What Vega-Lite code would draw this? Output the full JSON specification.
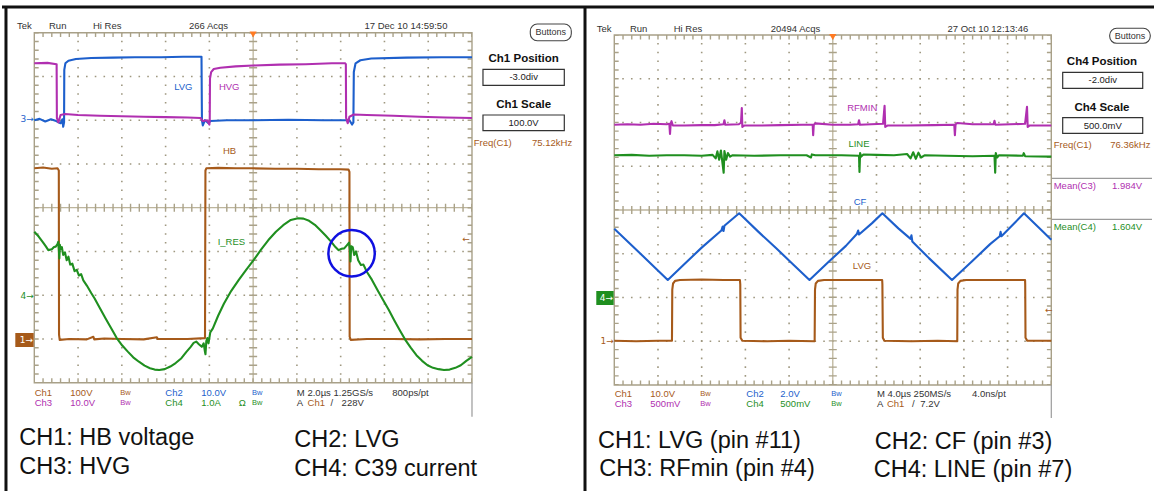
{
"$schema":"https://vega.github.io/schema/vega-lite/v6.json",
"padding":0,"spacing":0,"bounds":"flush","background":"#ffffff",
"config":{"view":{"stroke":null},"text":{"font":"Liberation Sans"}},
"hconcat":[
{"width":582,"height":491,
 "encoding":{"x":{"field":"x","type":"quantitative","scale":{"domain":[-0.738,12.559],"nice":false,"zero":false},"axis":null},
             "y":{"field":"y","type":"quantitative","scale":{"domain":[-6.475,4.747],"nice":false,"zero":false},"axis":null}},
 "layer":[
  {"data":{"values":[{"x":-0.647,"y":4.587,"x2":-0.647,"y2":-6.475},{"x":-0.738,"y":4.587,"x2":12.559,"y2":4.587}]},
   "mark":{"type":"rule","color":"#111111","strokeWidth":3},"encoding":{"x2":{"field":"x2"},"y2":{"field":"y2"}}},
  {"data":{"values":[{"x":1,"y":4,"x2":1,"y2":-4},{"x":2,"y":4,"x2":2,"y2":-4},{"x":3,"y":4,"x2":3,"y2":-4},{"x":4,"y":4,"x2":4,"y2":-4},{"x":6,"y":4,"x2":6,"y2":-4},{"x":7,"y":4,"x2":7,"y2":-4},{"x":8,"y":4,"x2":8,"y2":-4},{"x":9,"y":4,"x2":9,"y2":-4},
     {"x":0,"y":3,"x2":10,"y2":3},{"x":0,"y":2,"x2":10,"y2":2},{"x":0,"y":1,"x2":10,"y2":1},{"x":0,"y":-1,"x2":10,"y2":-1},{"x":0,"y":-2,"x2":10,"y2":-2},{"x":0,"y":-3,"x2":10,"y2":-3}]},
   "mark":{"type":"rule","color":"#9f9880","strokeWidth":1.6,"strokeDash":[1.6,7.15],"strokeDashOffset":0.8},"encoding":{"x2":{"field":"x2"},"y2":{"field":"y2"}}},
  {"data":{"values":[{"x":5,"y":4,"x2":5,"y2":-4},{"x":0,"y":0,"x2":10,"y2":0}]},
   "mark":{"type":"rule","color":"#bdb59c","strokeWidth":1.3},"encoding":{"x2":{"field":"x2"},"y2":{"field":"y2"}}},
  {"data":{"values":[{"x":5,"y":4,"x2":5,"y2":-4},{"x":0,"y":0,"x2":10,"y2":0}]},
   "mark":{"type":"rule","color":"#aaa289","strokeWidth":8,"strokeDash":[1.4,7.35],"strokeDashOffset":0.7},"encoding":{"x2":{"field":"x2"},"y2":{"field":"y2"}}},
  {"data":{"values":[{"x":0,"y":3.95,"x2":10,"y2":3.95},{"x":0,"y":-3.95,"x2":10,"y2":-3.95},{"x":0.05,"y":4,"x2":0.05,"y2":-4},{"x":9.95,"y":4,"x2":9.95,"y2":-4}]},
   "mark":{"type":"rule","color":"#aaa289","strokeWidth":4.4,"strokeDash":[1.4,7.35],"strokeDashOffset":0.7},"encoding":{"x2":{"field":"x2"},"y2":{"field":"y2"}}},
  {"data":{"values":[{"x":0,"y":4,"x2":10,"y2":-4}]},
   "mark":{"type":"rect","filled":false,"color":"#a8a088","strokeWidth":1.4},"encoding":{"x2":{"field":"x2"},"y2":{"field":"y2"}}},
  {"data":{"values":[{"x":10,"y":-4,"x2":10,"y2":-4.78}]},
   "mark":{"type":"rule","color":"#9a9a9a","strokeWidth":1.2},"encoding":{"x2":{"field":"x2"},"y2":{"field":"y2"}}},
  {"data":{"values":[
{"ch":"2","x":0,"y":2.0},{"ch":"2","x":0.12,"y":2.03},{"ch":"2","x":0.25,"y":1.97},{"ch":"2","x":0.38,"y":2.02},{"ch":"2","x":0.5,"y":1.98},{"ch":"2","x":0.6,"y":1.93},{"ch":"2","x":0.64,"y":2.02},{"ch":"2","x":0.66,"y":1.85},{"ch":"2","x":0.68,"y":1.95},{"ch":"2","x":0.685,"y":3.15},{"ch":"2","x":0.71,"y":3.3},{"ch":"2","x":0.78,"y":3.36},{"ch":"2","x":0.95,"y":3.4},{"ch":"2","x":1.3,"y":3.42},{"ch":"2","x":1.8,"y":3.43},{"ch":"2","x":2.3,"y":3.44},{"ch":"2","x":2.9,"y":3.44},{"ch":"2","x":3.4,"y":3.45},{"ch":"2","x":3.82,"y":3.45},{"ch":"2","x":3.83,"y":2.0},{"ch":"2","x":3.85,"y":1.88},{"ch":"2","x":3.9,"y":2.0},{"ch":"2","x":3.98,"y":1.93},{"ch":"2","x":4.02,"y":1.98},{"ch":"2","x":4.4,"y":2.0},{"ch":"2","x":5.0,"y":2.0},{"ch":"2","x":5.8,"y":2.01},{"ch":"2","x":6.6,"y":2.0},{"ch":"2","x":7.2,"y":2.0},{"ch":"2","x":7.26,"y":1.9},{"ch":"2","x":7.29,"y":1.95},{"ch":"2","x":7.3,"y":3.1},{"ch":"2","x":7.34,"y":3.3},{"ch":"2","x":7.45,"y":3.37},{"ch":"2","x":7.7,"y":3.41},{"ch":"2","x":8.5,"y":3.43},{"ch":"2","x":9.3,"y":3.44},{"ch":"2","x":10,"y":3.44},
{"ch":"3","x":0,"y":3.3},{"ch":"3","x":0.3,"y":3.31},{"ch":"3","x":0.51,"y":3.28},{"ch":"3","x":0.516,"y":2.05},{"ch":"3","x":0.55,"y":1.95},{"ch":"3","x":0.6,"y":2.12},{"ch":"3","x":0.7,"y":2.14},{"ch":"3","x":1.0,"y":2.12},{"ch":"3","x":1.5,"y":2.1},{"ch":"3","x":2.0,"y":2.09},{"ch":"3","x":2.5,"y":2.08},{"ch":"3","x":3.0,"y":2.07},{"ch":"3","x":3.5,"y":2.06},{"ch":"3","x":3.8,"y":2.05},{"ch":"3","x":3.85,"y":1.98},{"ch":"3","x":3.95,"y":2.0},{"ch":"3","x":4.0,"y":1.9},{"ch":"3","x":4.008,"y":2.0},{"ch":"3","x":4.014,"y":2.95},{"ch":"3","x":4.04,"y":3.1},{"ch":"3","x":4.1,"y":3.17},{"ch":"3","x":4.25,"y":3.2},{"ch":"3","x":4.6,"y":3.23},{"ch":"3","x":5.0,"y":3.25},{"ch":"3","x":5.6,"y":3.27},{"ch":"3","x":6.2,"y":3.28},{"ch":"3","x":6.8,"y":3.3},{"ch":"3","x":7.1,"y":3.3},{"ch":"3","x":7.118,"y":3.28},{"ch":"3","x":7.124,"y":2.05},{"ch":"3","x":7.16,"y":1.93},{"ch":"3","x":7.2,"y":2.08},{"ch":"3","x":7.3,"y":2.13},{"ch":"3","x":7.6,"y":2.12},{"ch":"3","x":8.2,"y":2.1},{"ch":"3","x":8.8,"y":2.08},{"ch":"3","x":9.4,"y":2.06},{"ch":"3","x":10,"y":2.05},
{"ch":"1","x":0,"y":0.9},{"ch":"1","x":0.2,"y":0.92},{"ch":"1","x":0.4,"y":0.89},{"ch":"1","x":0.53,"y":0.9},{"ch":"1","x":0.56,"y":0.85},{"ch":"1","x":0.565,"y":-2.9},{"ch":"1","x":0.58,"y":-3.02},{"ch":"1","x":0.8,"y":-3.0},{"ch":"1","x":1.2,"y":-3.01},{"ch":"1","x":1.35,"y":-2.95},{"ch":"1","x":1.37,"y":-3.01},{"ch":"1","x":1.6,"y":-2.99},{"ch":"1","x":2.0,"y":-3.0},{"ch":"1","x":2.5,"y":-3.01},{"ch":"1","x":2.8,"y":-2.96},{"ch":"1","x":2.82,"y":-3.0},{"ch":"1","x":3.0,"y":-3.0},{"ch":"1","x":3.5,"y":-3.0},{"ch":"1","x":3.9,"y":-2.98},{"ch":"1","x":3.91,"y":0.85},{"ch":"1","x":3.93,"y":0.9},{"ch":"1","x":4.2,"y":0.91},{"ch":"1","x":4.6,"y":0.9},{"ch":"1","x":5.0,"y":0.9},{"ch":"1","x":5.5,"y":0.89},{"ch":"1","x":6.0,"y":0.89},{"ch":"1","x":6.5,"y":0.88},{"ch":"1","x":7.0,"y":0.88},{"ch":"1","x":7.18,"y":0.87},{"ch":"1","x":7.2,"y":0.82},{"ch":"1","x":7.205,"y":-2.95},{"ch":"1","x":7.23,"y":-3.02},{"ch":"1","x":7.6,"y":-3.0},{"ch":"1","x":8.2,"y":-3.0},{"ch":"1","x":8.8,"y":-3.01},{"ch":"1","x":9.4,"y":-3.0},{"ch":"1","x":10,"y":-3.0},
{"ch":"4","x":0.0,"y":-0.55},{"ch":"4","x":0.1,"y":-0.66},{"ch":"4","x":0.19,"y":-0.78},{"ch":"4","x":0.26,"y":-0.88},{"ch":"4","x":0.32,"y":-0.97},{"ch":"4","x":0.4,"y":-0.95},{"ch":"4","x":0.45,"y":-0.9},{"ch":"4","x":0.49,"y":-0.89},{"ch":"4","x":0.53,"y":-0.83},{"ch":"4","x":0.547,"y":-0.78},{"ch":"4","x":0.56,"y":-0.95},{"ch":"4","x":0.572,"y":-1.16},{"ch":"4","x":0.585,"y":-0.85},{"ch":"4","x":0.6,"y":-0.95},{"ch":"4","x":0.63,"y":-0.9},{"ch":"4","x":0.66,"y":-1.08},{"ch":"4","x":0.7,"y":-1.02},{"ch":"4","x":0.74,"y":-1.2},{"ch":"4","x":0.78,"y":-1.12},{"ch":"4","x":0.82,"y":-1.3},{"ch":"4","x":0.87,"y":-1.28},{"ch":"4","x":0.92,"y":-1.45},{"ch":"4","x":0.97,"y":-1.42},{"ch":"4","x":1.02,"y":-1.55},{"ch":"4","x":1.07,"y":-1.52},{"ch":"4","x":1.12,"y":-1.66},{"ch":"4","x":1.2,"y":-1.78},{"ch":"4","x":1.3,"y":-1.95},{"ch":"4","x":1.375,"y":-2.07},{"ch":"4","x":1.5,"y":-2.3},{"ch":"4","x":1.629,"y":-2.53},{"ch":"4","x":1.76,"y":-2.76},{"ch":"4","x":1.883,"y":-2.98},{"ch":"4","x":2.01,"y":-3.15},{"ch":"4","x":2.136,"y":-3.29},{"ch":"4","x":2.26,"y":-3.42},{"ch":"4","x":2.39,"y":-3.52},{"ch":"4","x":2.52,"y":-3.61},{"ch":"4","x":2.643,"y":-3.67},{"ch":"4","x":2.75,"y":-3.7},{"ch":"4","x":2.854,"y":-3.71},{"ch":"4","x":2.98,"y":-3.69},{"ch":"4","x":3.107,"y":-3.63},{"ch":"4","x":3.23,"y":-3.55},{"ch":"4","x":3.361,"y":-3.44},{"ch":"4","x":3.47,"y":-3.3},{"ch":"4","x":3.573,"y":-3.18},{"ch":"4","x":3.64,"y":-3.09},{"ch":"4","x":3.699,"y":-3.06},{"ch":"4","x":3.76,"y":-3.12},{"ch":"4","x":3.827,"y":-3.18},{"ch":"4","x":3.87,"y":-3.1},{"ch":"4","x":3.9,"y":-3.3},{"ch":"4","x":3.911,"y":-3.35},{"ch":"4","x":3.93,"y":-3.05},{"ch":"4","x":3.953,"y":-2.98},{"ch":"4","x":3.98,"y":-3.1},{"ch":"4","x":4.02,"y":-2.85},{"ch":"4","x":4.08,"y":-2.76},{"ch":"4","x":4.2,"y":-2.47},{"ch":"4","x":4.334,"y":-2.19},{"ch":"4","x":4.5,"y":-1.9},{"ch":"4","x":4.672,"y":-1.65},{"ch":"4","x":4.84,"y":-1.42},{"ch":"4","x":5.01,"y":-1.2},{"ch":"4","x":5.18,"y":-0.96},{"ch":"4","x":5.348,"y":-0.74},{"ch":"4","x":5.52,"y":-0.55},{"ch":"4","x":5.687,"y":-0.4},{"ch":"4","x":5.86,"y":-0.28},{"ch":"4","x":6.025,"y":-0.24},{"ch":"4","x":6.15,"y":-0.25},{"ch":"4","x":6.278,"y":-0.3},{"ch":"4","x":6.41,"y":-0.39},{"ch":"4","x":6.532,"y":-0.51},{"ch":"4","x":6.66,"y":-0.64},{"ch":"4","x":6.785,"y":-0.78},{"ch":"4","x":6.88,"y":-0.9},{"ch":"4","x":6.954,"y":-0.97},{"ch":"4","x":7.02,"y":-0.94},{"ch":"4","x":7.08,"y":-0.93},{"ch":"4","x":7.14,"y":-0.86},{"ch":"4","x":7.19,"y":-0.8},{"ch":"4","x":7.21,"y":-0.95},{"ch":"4","x":7.224,"y":-1.23},{"ch":"4","x":7.24,"y":-0.88},{"ch":"4","x":7.274,"y":-0.9},{"ch":"4","x":7.31,"y":-1.08},{"ch":"4","x":7.35,"y":-1.0},{"ch":"4","x":7.4,"y":-1.2},{"ch":"4","x":7.462,"y":-1.31},{"ch":"4","x":7.52,"y":-1.3},{"ch":"4","x":7.6,"y":-1.47},{"ch":"4","x":7.715,"y":-1.65},{"ch":"4","x":7.84,"y":-1.88},{"ch":"4","x":7.969,"y":-2.11},{"ch":"4","x":8.1,"y":-2.34},{"ch":"4","x":8.223,"y":-2.57},{"ch":"4","x":8.35,"y":-2.8},{"ch":"4","x":8.476,"y":-3.02},{"ch":"4","x":8.6,"y":-3.2},{"ch":"4","x":8.73,"y":-3.37},{"ch":"4","x":8.86,"y":-3.5},{"ch":"4","x":8.983,"y":-3.6},{"ch":"4","x":9.11,"y":-3.66},{"ch":"4","x":9.237,"y":-3.69},{"ch":"4","x":9.36,"y":-3.71},{"ch":"4","x":9.488,"y":-3.7},{"ch":"4","x":9.62,"y":-3.66},{"ch":"4","x":9.744,"y":-3.6},{"ch":"4","x":9.87,"y":-3.5},{"ch":"4","x":10.0,"y":-3.41}
  ]},
   "mark":{"type":"line","strokeWidth":2.1,"strokeJoin":"round"},
   "encoding":{"color":{"field":"ch","type":"nominal","scale":{"domain":["1","2","3","4","n"],"range":["#a65a1a","#1d5fcc","#b02fb0","#1f8f1f","#333333"]},"legend":null}}},
  {"data":{"values":[{"x":7.249,"y":-1.042}]},"mark":{"type":"point","shape":"circle","size":2150,"filled":false,"color":"#1010e0","strokeWidth":2.5,"opacity":1}},
  {"data":{"values":[{"x":5.0,"y":3.959}]},"mark":{"type":"point","shape":"triangle-down","size":50,"filled":true,"color":"#ff7a22","opacity":1}},
  {"data":{"values":[{"x":-0.395,"y":4.153,"t":"Tek"},{"x":0.336,"y":4.153,"t":"Run"},{"x":1.341,"y":4.153,"t":"Hi Res"},{"x":3.534,"y":4.153,"t":"266 Acqs"},{"x":7.544,"y":4.153,"t":"17 Dec 10 14:59:50"}]},
   "mark":{"type":"text","align":"left","baseline":"middle","fontSize":9.5,"color":"#333333"},"encoding":{"text":{"field":"t"}}},
  {"data":{"values":[{"x":10.039,"y":1.486,"t":"Freq(C1)","ch":"1"},{"x":11.371,"y":1.486,"t":"75.12kHz","ch":"1"},
     {"x":0.009,"y":-4.229,"t":"Ch1","ch":"1"},{"x":0.822,"y":-4.229,"t":"100V","ch":"1"},{"x":2.993,"y":-4.229,"t":"Ch2","ch":"2"},{"x":3.815,"y":-4.229,"t":"10.0V","ch":"2"},{"x":5.999,"y":-4.229,"t":"M 2.0µs 1.25GS/s","ch":"n"},{"x":8.179,"y":-4.229,"t":"800ps/pt","ch":"n"},
     {"x":0.009,"y":-4.457,"t":"Ch3","ch":"3"},{"x":0.822,"y":-4.457,"t":"10.0V","ch":"3"},{"x":2.993,"y":-4.457,"t":"Ch4","ch":"4"},{"x":3.815,"y":-4.457,"t":"1.0A","ch":"4"},{"x":4.67,"y":-4.457,"t":"Ω","ch":"4"},{"x":5.999,"y":-4.457,"t":"A","ch":"n"},{"x":6.244,"y":-4.457,"t":"Ch1","ch":"1"},{"x":6.767,"y":-4.457,"t":"/","ch":"n"},{"x":7.021,"y":-4.457,"t":"228V","ch":"n"}]},
   "mark":{"type":"text","align":"left","baseline":"middle","fontSize":9.5},
   "encoding":{"text":{"field":"t"},"color":{"field":"ch","type":"nominal","scale":{"domain":["1","2","3","4","n"],"range":["#a65a1a","#1d5fcc","#b02fb0","#1f8f1f","#333333"]},"legend":null}}},
  {"data":{"values":[{"x":1.965,"y":-4.229,"t":"Bw","ch":"1"},{"x":4.974,"y":-4.229,"t":"Bw","ch":"2"},{"x":1.965,"y":-4.457,"t":"Bw","ch":"3"},{"x":4.974,"y":-4.457,"t":"Bw","ch":"4"}]},
   "mark":{"type":"text","align":"left","baseline":"middle","fontSize":7.5},
   "encoding":{"text":{"field":"t"},"color":{"field":"ch","type":"nominal","scale":{"domain":["1","2","3","4","n"],"range":["#a65a1a","#1d5fcc","#b02fb0","#1f8f1f","#333333"]},"legend":null}}},
  {"data":{"values":[{"x":3.404,"y":2.766,"t":"LVG","ch":"2"},{"x":4.453,"y":2.752,"t":"HVG","ch":"3"},{"x":4.46,"y":1.296,"t":"HB","ch":"1"},{"x":4.503,"y":-0.777,"t":"I_RES","ch":"4"}]},
   "mark":{"type":"text","align":"center","baseline":"middle","fontSize":9.5},
   "encoding":{"text":{"field":"t"},"color":{"field":"ch","type":"nominal","scale":{"domain":["1","2","3","4","n"],"range":["#a65a1a","#1d5fcc","#b02fb0","#1f8f1f","#333333"]},"legend":null}}},
  {"data":{"values":[{"x":-0.434,"y":-2.864,"x2":-0.014,"y2":-3.184,"ch":"1"}]},
   "mark":{"type":"rect"},
   "encoding":{"x2":{"field":"x2"},"y2":{"field":"y2"},"color":{"field":"ch","type":"nominal","scale":{"domain":["1","2","3","4","n"],"range":["#a65a1a","#1d5fcc","#b02fb0","#1f8f1f","#333333"]},"legend":null}}},
  {"data":{"values":[{"x":-0.01,"y":2.02,"t":"3→","ch":"2"},{"x":-0.01,"y":-2.018,"t":"4→","ch":"4"},{"x":9.95,"y":-0.722,"t":"←","ch":"1"}]},
   "mark":{"type":"text","align":"right","baseline":"middle","fontSize":9,"font":"DejaVu Sans"},
   "encoding":{"text":{"field":"t"},"color":{"field":"ch","type":"nominal","scale":{"domain":["1","2","3","4","n"],"range":["#a65a1a","#1d5fcc","#b02fb0","#1f8f1f","#333333"]},"legend":null}}},
  {"data":{"values":[{"x":-0.03,"y":-3.024,"t":"1→"}]},
   "mark":{"type":"text","align":"right","baseline":"middle","fontSize":9,"font":"DejaVu Sans","color":"#ffffff"},"encoding":{"text":{"field":"t"}}},
  {"data":{"values":[{"x":11.181,"y":3.392,"t":"Ch1 Position"},{"x":11.181,"y":2.347,"t":"Ch1 Scale"}]},
   "mark":{"type":"text","align":"center","baseline":"middle","fontSize":11.5,"fontWeight":"bold","color":"#111111"},"encoding":{"text":{"field":"t"}}},
  {"data":{"values":[{"x":10.251,"y":3.163,"x2":12.109,"y2":2.798},{"x":10.251,"y":2.119,"x2":12.109,"y2":1.76}]},
   "mark":{"type":"rect","filled":false,"color":"#333333","strokeWidth":1.2},"encoding":{"x2":{"field":"x2"},"y2":{"field":"y2"}}},
  {"data":{"values":[{"x":11.18,"y":2.981,"t":"-3.0div"},{"x":11.18,"y":1.94,"t":"100.0V"}]},
   "mark":{"type":"text","align":"center","baseline":"middle","fontSize":9.5,"color":"#222222"},"encoding":{"text":{"field":"t"}}},
  {"data":{"values":[{"x":11.332,"y":4.199,"x2":12.269,"y2":3.817}]},
   "mark":{"type":"rect","filled":false,"color":"#444444","strokeWidth":1.1,"cornerRadius":7},"encoding":{"x2":{"field":"x2"},"y2":{"field":"y2"}}},
  {"data":{"values":[{"x":11.8,"y":4.008,"t":"Buttons"}]},
   "mark":{"type":"text","align":"center","baseline":"middle","fontSize":9,"color":"#333333"},"encoding":{"text":{"field":"t"}}},
  {"data":{"values":[{"x":-0.343,"y":-5.271,"t":"CH1: HB voltage"},{"x":-0.343,"y":-5.934,"t":"CH3: HVG"},{"x":5.94,"y":-5.31,"t":"CH2: LVG"},{"x":5.94,"y":-5.979,"t":"CH4: C39 current"}]},
   "mark":{"type":"text","align":"left","baseline":"middle","fontSize":23.5,"color":"#111111"},"encoding":{"text":{"field":"t"}}}
 ]},
{"width":572,"height":491,
 "encoding":{"x":{"field":"x","type":"quantitative","scale":{"domain":[-0.693,12.396],"nice":false,"zero":false},"axis":null},
             "y":{"field":"y","type":"quantitative","scale":{"domain":[-6.423,4.8],"nice":false,"zero":false},"axis":null}},
 "layer":[
  {"data":{"values":[{"x":-0.67,"y":4.64,"x2":-0.67,"y2":-6.423},{"x":-0.693,"y":4.64,"x2":12.396,"y2":4.64}]},
   "mark":{"type":"rule","color":"#111111","strokeWidth":3},"encoding":{"x2":{"field":"x2"},"y2":{"field":"y2"}}},
  {"data":{"values":[{"x":1,"y":4,"x2":1,"y2":-4},{"x":2,"y":4,"x2":2,"y2":-4},{"x":3,"y":4,"x2":3,"y2":-4},{"x":4,"y":4,"x2":4,"y2":-4},{"x":6,"y":4,"x2":6,"y2":-4},{"x":7,"y":4,"x2":7,"y2":-4},{"x":8,"y":4,"x2":8,"y2":-4},{"x":9,"y":4,"x2":9,"y2":-4},
     {"x":0,"y":3,"x2":10,"y2":3},{"x":0,"y":2,"x2":10,"y2":2},{"x":0,"y":1,"x2":10,"y2":1},{"x":0,"y":-1,"x2":10,"y2":-1},{"x":0,"y":-2,"x2":10,"y2":-2},{"x":0,"y":-3,"x2":10,"y2":-3}]},
   "mark":{"type":"rule","color":"#9f9880","strokeWidth":1.6,"strokeDash":[1.6,7.14],"strokeDashOffset":0.8},"encoding":{"x2":{"field":"x2"},"y2":{"field":"y2"}}},
  {"data":{"values":[{"x":5,"y":4,"x2":5,"y2":-4},{"x":0,"y":0,"x2":10,"y2":0}]},
   "mark":{"type":"rule","color":"#bdb59c","strokeWidth":1.3},"encoding":{"x2":{"field":"x2"},"y2":{"field":"y2"}}},
  {"data":{"values":[{"x":5,"y":4,"x2":5,"y2":-4},{"x":0,"y":0,"x2":10,"y2":0}]},
   "mark":{"type":"rule","color":"#aaa289","strokeWidth":8,"strokeDash":[1.4,7.34],"strokeDashOffset":0.7},"encoding":{"x2":{"field":"x2"},"y2":{"field":"y2"}}},
  {"data":{"values":[{"x":0,"y":3.95,"x2":10,"y2":3.95},{"x":0,"y":-3.95,"x2":10,"y2":-3.95},{"x":0.05,"y":4,"x2":0.05,"y2":-4},{"x":9.95,"y":4,"x2":9.95,"y2":-4}]},
   "mark":{"type":"rule","color":"#aaa289","strokeWidth":4.4,"strokeDash":[1.4,7.34],"strokeDashOffset":0.7},"encoding":{"x2":{"field":"x2"},"y2":{"field":"y2"}}},
  {"data":{"values":[{"x":0,"y":4,"x2":10,"y2":-4}]},
   "mark":{"type":"rect","filled":false,"color":"#a8a088","strokeWidth":1.4},"encoding":{"x2":{"field":"x2"},"y2":{"field":"y2"}}},
  {"data":{"values":[{"x":10,"y":-4,"x2":10,"y2":-4.754},{"x":10.016,"y":0.725,"x2":12.304,"y2":0.725},{"x":10.016,"y":-0.213,"x2":12.304,"y2":-0.213}]},
   "mark":{"type":"rule","color":"#9a9a9a","strokeWidth":1.2},"encoding":{"x2":{"field":"x2"},"y2":{"field":"y2"}}},
  {"data":{"values":[
{"ch":"3","x":0,"y":1.95},{"ch":"3","x":0.3,"y":1.96},{"ch":"3","x":0.6,"y":1.95},{"ch":"3","x":0.9,"y":1.97},{"ch":"3","x":1.2,"y":1.96},{"ch":"3","x":1.26,"y":1.97},{"ch":"3","x":1.275,"y":1.74},{"ch":"3","x":1.29,"y":1.97},{"ch":"3","x":1.31,"y":2.03},{"ch":"3","x":1.34,"y":1.93},{"ch":"3","x":1.6,"y":1.93},{"ch":"3","x":2.0,"y":1.94},{"ch":"3","x":2.3,"y":1.94},{"ch":"3","x":2.5,"y":1.96},{"ch":"3","x":2.52,"y":2.05},{"ch":"3","x":2.54,"y":1.95},{"ch":"3","x":2.85,"y":1.96},{"ch":"3","x":2.9,"y":2.0},{"ch":"3","x":2.918,"y":2.33},{"ch":"3","x":2.93,"y":1.9},{"ch":"3","x":2.97,"y":1.93},{"ch":"3","x":3.3,"y":1.93},{"ch":"3","x":3.8,"y":1.94},{"ch":"3","x":4.3,"y":1.95},{"ch":"3","x":4.54,"y":1.95},{"ch":"3","x":4.551,"y":1.71},{"ch":"3","x":4.565,"y":1.95},{"ch":"3","x":4.6,"y":1.98},{"ch":"3","x":5.0,"y":1.95},{"ch":"3","x":5.4,"y":1.95},{"ch":"3","x":5.58,"y":1.96},{"ch":"3","x":5.6,"y":2.05},{"ch":"3","x":5.62,"y":1.95},{"ch":"3","x":6.15,"y":1.97},{"ch":"3","x":6.185,"y":2.38},{"ch":"3","x":6.2,"y":1.9},{"ch":"3","x":6.25,"y":1.93},{"ch":"3","x":6.7,"y":1.93},{"ch":"3","x":7.3,"y":1.94},{"ch":"3","x":7.78,"y":1.95},{"ch":"3","x":7.794,"y":1.71},{"ch":"3","x":7.81,"y":1.96},{"ch":"3","x":7.85,"y":1.99},{"ch":"3","x":8.2,"y":1.96},{"ch":"3","x":8.68,"y":1.96},{"ch":"3","x":8.7,"y":2.04},{"ch":"3","x":8.72,"y":1.95},{"ch":"3","x":9.4,"y":1.97},{"ch":"3","x":9.444,"y":2.36},{"ch":"3","x":9.46,"y":1.9},{"ch":"3","x":9.5,"y":1.93},{"ch":"3","x":10,"y":1.93},
{"ch":"4","x":0,"y":1.25},{"ch":"4","x":0.4,"y":1.26},{"ch":"4","x":0.8,"y":1.24},{"ch":"4","x":1.2,"y":1.25},{"ch":"4","x":1.6,"y":1.25},{"ch":"4","x":2.0,"y":1.24},{"ch":"4","x":2.25,"y":1.26},{"ch":"4","x":2.32,"y":1.18},{"ch":"4","x":2.36,"y":1.34},{"ch":"4","x":2.4,"y":1.15},{"ch":"4","x":2.44,"y":1.36},{"ch":"4","x":2.47,"y":1.12},{"ch":"4","x":2.503,"y":0.85},{"ch":"4","x":2.52,"y":1.35},{"ch":"4","x":2.56,"y":1.15},{"ch":"4","x":2.6,"y":1.3},{"ch":"4","x":2.65,"y":1.22},{"ch":"4","x":2.7,"y":1.25},{"ch":"4","x":3.2,"y":1.24},{"ch":"4","x":3.8,"y":1.25},{"ch":"4","x":4.4,"y":1.25},{"ch":"4","x":4.5,"y":1.2},{"ch":"4","x":4.52,"y":1.27},{"ch":"4","x":4.6,"y":1.25},{"ch":"4","x":5.2,"y":1.25},{"ch":"4","x":5.6,"y":1.24},{"ch":"4","x":5.611,"y":0.87},{"ch":"4","x":5.625,"y":1.3},{"ch":"4","x":5.65,"y":1.22},{"ch":"4","x":5.7,"y":1.27},{"ch":"4","x":6.0,"y":1.26},{"ch":"4","x":6.4,"y":1.25},{"ch":"4","x":6.7,"y":1.28},{"ch":"4","x":6.78,"y":1.18},{"ch":"4","x":6.84,"y":1.32},{"ch":"4","x":6.9,"y":1.17},{"ch":"4","x":6.96,"y":1.31},{"ch":"4","x":7.02,"y":1.2},{"ch":"4","x":7.1,"y":1.25},{"ch":"4","x":7.6,"y":1.24},{"ch":"4","x":8.2,"y":1.23},{"ch":"4","x":8.7,"y":1.24},{"ch":"4","x":8.716,"y":0.85},{"ch":"4","x":8.73,"y":1.3},{"ch":"4","x":8.76,"y":1.2},{"ch":"4","x":8.8,"y":1.25},{"ch":"4","x":9.35,"y":1.24},{"ch":"4","x":9.37,"y":1.3},{"ch":"4","x":9.4,"y":1.23},{"ch":"4","x":10,"y":1.22},
{"ch":"2","x":0,"y":-0.43},{"ch":"2","x":0.6,"y":-1.0},{"ch":"2","x":1.224,"y":-1.6},{"ch":"2","x":1.6,"y":-1.24},{"ch":"2","x":2.0,"y":-0.86},{"ch":"2","x":2.45,"y":-0.47},{"ch":"2","x":2.48,"y":-0.38},{"ch":"2","x":2.5,"y":-0.48},{"ch":"2","x":2.52,"y":-0.36},{"ch":"2","x":2.858,"y":-0.075},{"ch":"2","x":3.3,"y":-0.5},{"ch":"2","x":3.7,"y":-0.87},{"ch":"2","x":4.1,"y":-1.25},{"ch":"2","x":4.467,"y":-1.6},{"ch":"2","x":4.9,"y":-1.19},{"ch":"2","x":5.3,"y":-0.82},{"ch":"2","x":5.55,"y":-0.55},{"ch":"2","x":5.58,"y":-0.47},{"ch":"2","x":5.6,"y":-0.56},{"ch":"2","x":5.9,"y":-0.3},{"ch":"2","x":6.135,"y":-0.075},{"ch":"2","x":6.5,"y":-0.42},{"ch":"2","x":6.78,"y":-0.66},{"ch":"2","x":6.8,"y":-0.58},{"ch":"2","x":6.82,"y":-0.72},{"ch":"2","x":7.2,"y":-1.1},{"ch":"2","x":7.728,"y":-1.6},{"ch":"2","x":8.2,"y":-1.16},{"ch":"2","x":8.6,"y":-0.78},{"ch":"2","x":8.82,"y":-0.6},{"ch":"2","x":8.84,"y":-0.5},{"ch":"2","x":8.86,"y":-0.6},{"ch":"2","x":9.375,"y":-0.075},{"ch":"2","x":9.7,"y":-0.39},{"ch":"2","x":10,"y":-0.68},
{"ch":"1","x":0,"y":-2.99},{"ch":"1","x":0.5,"y":-3.0},{"ch":"1","x":1.0,"y":-2.99},{"ch":"1","x":1.32,"y":-2.99},{"ch":"1","x":1.327,"y":-1.82},{"ch":"1","x":1.345,"y":-1.68},{"ch":"1","x":1.39,"y":-1.62},{"ch":"1","x":1.5,"y":-1.6},{"ch":"1","x":2.0,"y":-1.59},{"ch":"1","x":2.5,"y":-1.6},{"ch":"1","x":2.875,"y":-1.6},{"ch":"1","x":2.883,"y":-1.7},{"ch":"1","x":2.89,"y":-2.92},{"ch":"1","x":2.93,"y":-2.99},{"ch":"1","x":3.5,"y":-3.0},{"ch":"1","x":4.0,"y":-2.99},{"ch":"1","x":4.585,"y":-3.0},{"ch":"1","x":4.593,"y":-1.82},{"ch":"1","x":4.61,"y":-1.68},{"ch":"1","x":4.66,"y":-1.62},{"ch":"1","x":4.8,"y":-1.6},{"ch":"1","x":5.4,"y":-1.6},{"ch":"1","x":6.13,"y":-1.6},{"ch":"1","x":6.135,"y":-1.7},{"ch":"1","x":6.145,"y":-2.92},{"ch":"1","x":6.18,"y":-2.99},{"ch":"1","x":6.8,"y":-3.0},{"ch":"1","x":7.4,"y":-2.99},{"ch":"1","x":7.848,"y":-3.0},{"ch":"1","x":7.854,"y":-1.82},{"ch":"1","x":7.87,"y":-1.68},{"ch":"1","x":7.92,"y":-1.62},{"ch":"1","x":8.05,"y":-1.6},{"ch":"1","x":8.7,"y":-1.6},{"ch":"1","x":9.4,"y":-1.6},{"ch":"1","x":9.403,"y":-1.7},{"ch":"1","x":9.41,"y":-2.92},{"ch":"1","x":9.45,"y":-2.99},{"ch":"1","x":10,"y":-2.99}
  ]},
   "mark":{"type":"line","strokeWidth":2.1,"strokeJoin":"round"},
   "encoding":{"color":{"field":"ch","type":"nominal","scale":{"domain":["1","2","3","4","n"],"range":["#a65a1a","#1d5fcc","#b02fb0","#1f8f1f","#333333"]},"legend":null}}},
  {"data":{"values":[{"x":5.0,"y":3.954}]},"mark":{"type":"point","shape":"triangle-down","size":50,"filled":true,"color":"#ff7a22","opacity":1}},
  {"data":{"values":[{"x":-0.4,"y":4.13,"t":"Tek"},{"x":0.359,"y":4.13,"t":"Run"},{"x":1.359,"y":4.13,"t":"Hi Res"},{"x":3.579,"y":4.13,"t":"20494 Acqs"},{"x":7.625,"y":4.13,"t":"27 Oct 10 12:13:46"}]},
   "mark":{"type":"text","align":"left","baseline":"middle","fontSize":9.5,"color":"#333333"},"encoding":{"text":{"field":"t"}}},
  {"data":{"values":[{"x":10.055,"y":1.486,"t":"Freq(C1)","ch":"1"},{"x":11.35,"y":1.486,"t":"76.36kHz","ch":"1"},{"x":10.055,"y":0.549,"t":"Mean(C3)","ch":"3"},{"x":11.39,"y":0.549,"t":"1.984V","ch":"3"},{"x":10.055,"y":-0.395,"t":"Mean(C4)","ch":"4"},{"x":11.39,"y":-0.395,"t":"1.604V","ch":"4"},
     {"x":0.009,"y":-4.206,"t":"Ch1","ch":"1"},{"x":0.824,"y":-4.206,"t":"10.0V","ch":"1"},{"x":3.021,"y":-4.206,"t":"Ch2","ch":"2"},{"x":3.799,"y":-4.206,"t":"2.0V","ch":"2"},{"x":6.011,"y":-4.206,"t":"M 4.0µs 250MS/s","ch":"n"},{"x":8.185,"y":-4.206,"t":"4.0ns/pt","ch":"n"},
     {"x":0.009,"y":-4.434,"t":"Ch3","ch":"3"},{"x":0.824,"y":-4.434,"t":"500mV","ch":"3"},{"x":3.021,"y":-4.434,"t":"Ch4","ch":"4"},{"x":3.799,"y":-4.434,"t":"500mV","ch":"4"},{"x":6.011,"y":-4.434,"t":"A","ch":"n"},{"x":6.24,"y":-4.434,"t":"Ch1","ch":"1"},{"x":6.812,"y":-4.434,"t":"/","ch":"n"},{"x":7.002,"y":-4.434,"t":"7.2V","ch":"n"}]},
   "mark":{"type":"text","align":"left","baseline":"middle","fontSize":9.5},
   "encoding":{"text":{"field":"t"},"color":{"field":"ch","type":"nominal","scale":{"domain":["1","2","3","4","n"],"range":["#a65a1a","#1d5fcc","#b02fb0","#1f8f1f","#333333"]},"legend":null}}},
  {"data":{"values":[{"x":1.968,"y":-4.206,"t":"Bw","ch":"1"},{"x":4.966,"y":-4.206,"t":"Bw","ch":"2"},{"x":1.968,"y":-4.434,"t":"Bw","ch":"3"},{"x":4.966,"y":-4.434,"t":"Bw","ch":"4"}]},
   "mark":{"type":"text","align":"left","baseline":"middle","fontSize":7.5},
   "encoding":{"text":{"field":"t"},"color":{"field":"ch","type":"nominal","scale":{"domain":["1","2","3","4","n"],"range":["#a65a1a","#1d5fcc","#b02fb0","#1f8f1f","#333333"]},"legend":null}}},
  {"data":{"values":[{"x":5.673,"y":2.325,"t":"RFMIN","ch":"3"},{"x":5.6,"y":1.502,"t":"LINE","ch":"4"},{"x":5.622,"y":0.19,"t":"CF","ch":"2"},{"x":5.668,"y":-1.28,"t":"LVG","ch":"1"}]},
   "mark":{"type":"text","align":"center","baseline":"middle","fontSize":9.5},
   "encoding":{"text":{"field":"t"},"color":{"field":"ch","type":"nominal","scale":{"domain":["1","2","3","4","n"],"range":["#a65a1a","#1d5fcc","#b02fb0","#1f8f1f","#333333"]},"legend":null}}},
  {"data":{"values":[{"x":-0.412,"y":-1.851,"x2":-0.014,"y2":-2.171,"ch":"4"}]},
   "mark":{"type":"rect"},
   "encoding":{"x2":{"field":"x2"},"y2":{"field":"y2"},"color":{"field":"ch","type":"nominal","scale":{"domain":["1","2","3","4","n"],"range":["#a65a1a","#1d5fcc","#b02fb0","#1f8f1f","#333333"]},"legend":null}}},
  {"data":{"values":[{"x":-0.01,"y":-2.994,"t":"1→","ch":"1"},{"x":10.03,"y":-2.286,"t":"←","ch":"1"}]},
   "mark":{"type":"text","align":"right","baseline":"middle","fontSize":9,"font":"DejaVu Sans"},
   "encoding":{"text":{"field":"t"},"color":{"field":"ch","type":"nominal","scale":{"domain":["1","2","3","4","n"],"range":["#a65a1a","#1d5fcc","#b02fb0","#1f8f1f","#333333"]},"legend":null}}},
  {"data":{"values":[{"x":-0.03,"y":-2.012,"t":"4→"}]},
   "mark":{"type":"text","align":"right","baseline":"middle","fontSize":9,"font":"DejaVu Sans","color":"#ffffff"},"encoding":{"text":{"field":"t"}}},
  {"data":{"values":[{"x":11.16,"y":3.376,"t":"Ch4 Position"},{"x":11.16,"y":2.338,"t":"Ch4 Scale"}]},
   "mark":{"type":"text","align":"center","baseline":"middle","fontSize":11.5,"fontWeight":"bold","color":"#111111"},"encoding":{"text":{"field":"t"}}},
  {"data":{"values":[{"x":10.261,"y":3.147,"x2":12.092,"y2":2.782},{"x":10.261,"y":2.11,"x2":12.092,"y2":1.753}]},
   "mark":{"type":"rect","filled":false,"color":"#333333","strokeWidth":1.2},"encoding":{"x2":{"field":"x2"},"y2":{"field":"y2"}}},
  {"data":{"values":[{"x":11.177,"y":2.965,"t":"-2.0div"},{"x":11.177,"y":1.931,"t":"500.0mV"}]},
   "mark":{"type":"text","align":"center","baseline":"middle","fontSize":9.5,"color":"#222222"},"encoding":{"text":{"field":"t"}}},
  {"data":{"values":[{"x":11.336,"y":4.153,"x2":12.265,"y2":3.81}]},
   "mark":{"type":"rect","filled":false,"color":"#444444","strokeWidth":1.1,"cornerRadius":7},"encoding":{"x2":{"field":"x2"},"y2":{"field":"y2"}}},
  {"data":{"values":[{"x":11.8,"y":3.98,"t":"Buttons"}]},
   "mark":{"type":"text","align":"center","baseline":"middle","fontSize":9,"color":"#333333"},"encoding":{"text":{"field":"t"}}},
  {"data":{"values":[{"x":-0.373,"y":-5.273,"t":"CH1: LVG (pin #11)"},{"x":-0.343,"y":-5.927,"t":"CH3: RFmin (pin #4)"},{"x":5.959,"y":-5.296,"t":"CH2: CF (pin #3)"},{"x":5.936,"y":-5.943,"t":"CH4: LINE (pin #7)"}]},
   "mark":{"type":"text","align":"left","baseline":"middle","fontSize":23.5,"color":"#111111"},"encoding":{"text":{"field":"t"}}}
 ]}
]
}
